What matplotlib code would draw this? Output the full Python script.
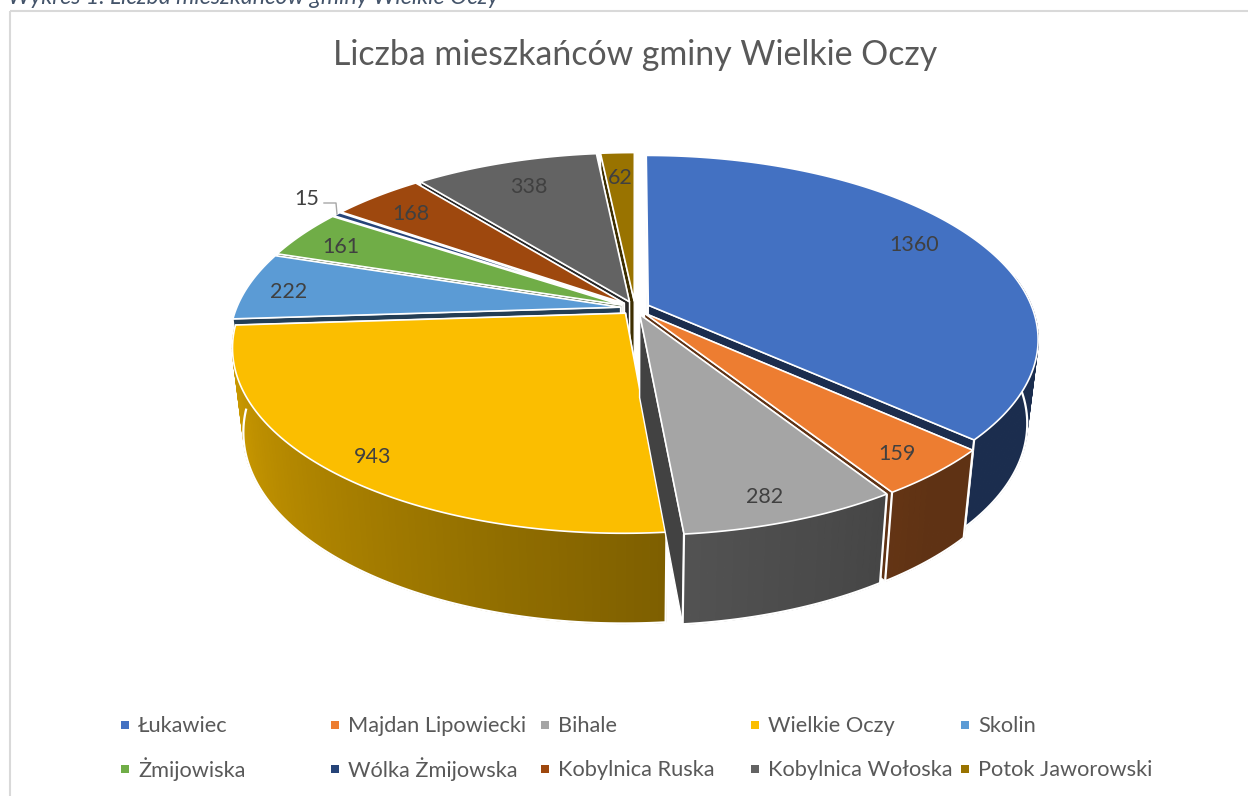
import numpy as np
import matplotlib
matplotlib.use('Agg')
import matplotlib.pyplot as plt
from matplotlib.patches import Polygon

names = ['Łukawiec', 'Majdan Lipowiecki', 'Bihale', 'Wielkie Oczy', 'Skolin',
         'Żmijowiska', 'Wólka Żmijowska', 'Kobylnica Ruska', 'Kobylnica Wołoska',
         'Potok Jaworowski']
values = [1360, 159, 282, 943, 222, 161, 15, 168, 338, 62]
colors = ['#4371c2', '#ed7d31', '#a5a5a5', '#fbbe00', '#5b9bd5',
          '#70ad47', '#264478', '#9e480e', '#636363', '#997300']
label_xy = [(914, 245), (897, 454), (765, 497), (373, 457), (289, 292),
            (341, 247), (307, 199), (411, 214), (529, 187), (620, 178)]
legend_x = [121, 331, 541, 751, 961]
legend_y = [725, 769]

# pie geometry, in pixels
cx, cy = 635, 308
rx, ry = 384, 178
persp = 5.5
depth = 83
taper = 0.027
explode = 0.038

plt.rcParams['font.family'] = ['Lato', 'DejaVu Sans']
fig = plt.figure(figsize=(12.48, 7.96), dpi=100)
ax = fig.add_axes([0, 0, 1, 1])
ax.set_xlim(0, 1248)
ax.set_ylim(796, 0)
ax.axis('off')


def project(u, v, z=0):
    s = persp / (persp - v)
    return cx + rx * u * s * (1 - taper * z), cy + ry * v * s + depth * z * s**0.4


def shade(angle):
    return np.interp(angle, [90, 140, 175, 270], [0.4, 0.4, 0.5, 0.87])


def darker(color, f):
    r, g, b = matplotlib.colors.to_rgb(color)
    return (r * f, g * f, b * f)


def draw_wedge(a0, a1, color, z):
    mid = np.radians((a0 + a1) / 2)
    ou, ov = explode * np.sin(mid), -explode * np.cos(mid)
    n = max(int(a1 - a0), 2) + 1
    th = np.linspace(a0, a1, n)
    us = ou + np.sin(np.radians(th))
    vs = ov - np.cos(np.radians(th))

    quads = []
    # cut faces: back-left slices only show a sliver, so their rim stays short
    rim = 0.2 if a0 >= 260 else 1
    for u, v in [(us[0], vs[0]), (us[-1], vs[-1])]:
        pts = [project(ou, ov), project(u, v), project(u, v, rim), project(ou, ov, 1)]
        quads.append(((v + ov) / 2, pts, darker(color, 0.4), 'white', 1.0))
    # outer wall, only the part that faces the viewer
    wall_i = [i for i in range(n) if 80 < th[i] <= 266.3]
    for i in wall_i[:-1]:
        pts = [project(us[i], vs[i]), project(us[i + 1], vs[i + 1]),
               project(us[i + 1], vs[i + 1], 1), project(us[i], vs[i], 1)]
        c = darker(color, shade((th[i] + th[i + 1]) / 2))
        quads.append(((vs[i] + vs[i + 1]) / 2, pts, c, c, 0.9))
    for _, pts, c, ec, lw in sorted(quads, key=lambda q: q[0]):
        ax.add_patch(Polygon(pts, closed=True, facecolor=c, edgecolor=ec, lw=lw, zorder=z))

    if len(wall_i) > 1:
        wall = [project(us[i], vs[i], 1) for i in wall_i]
        # no white seam on the ends that sit at the sides of the pie
        if th[wall_i[0]] > 100:
            wall.insert(0, project(us[wall_i[0]], vs[wall_i[0]]))
        if th[wall_i[-1]] < 260:
            wall.append(project(us[wall_i[-1]], vs[wall_i[-1]]))
        ax.add_patch(Polygon(wall, closed=False, fill=False, edgecolor='white', lw=1.6, zorder=z))

    top = [project(ou, ov)] + [project(u, v) for u, v in zip(us, vs)]
    ax.add_patch(Polygon(top, closed=True, facecolor=color, edgecolor='white', lw=1.2, zorder=z))


# slices clockwise from 12 o'clock, drawn back to front
angles = np.concatenate([[0], np.cumsum(values) / np.sum(values) * 360])
mids = (angles[:-1] + angles[1:]) / 2
for k, i in enumerate(np.argsort(-np.cos(np.radians(mids)))):
    draw_wedge(angles[i], angles[i + 1], colors[i], 5 + k)

for val, (x, y) in zip(values, label_xy):
    ax.text(x, y, str(val), fontsize=15.5, color='#404040', ha='center', va='center', zorder=30)
ax.plot([324, 336, 337], [203, 203, 214], color='#a6a6a6', lw=1.0, zorder=30)

# frame and caption
ax.add_patch(plt.Rectangle((9.5, 10.5), 1300, 900, fill=False, edgecolor='#d9d9d9', lw=1.5, zorder=1))
ax.text(8, 4, 'Wykres 1. Liczba mieszkańców gminy Wielkie Oczy', fontsize=16.7,
        style='italic', color='#44546a', ha='left', va='baseline')
ax.text(635, 55, 'Liczba mieszkańców gminy Wielkie Oczy', fontsize=24.4,
        color='#595959', ha='center', va='center')

for i, name in enumerate(names):
    x = legend_x[i % 5]
    y = legend_y[i // 5]
    ax.scatter([x + 3.7], [y], marker='s', s=30, color=colors[i], linewidths=0, zorder=30)
    ax.text(x + 17, y + 0.5, name, fontsize=15.7, color='#595959', ha='left', va='center')

fig.savefig('out.png', dpi=100)
